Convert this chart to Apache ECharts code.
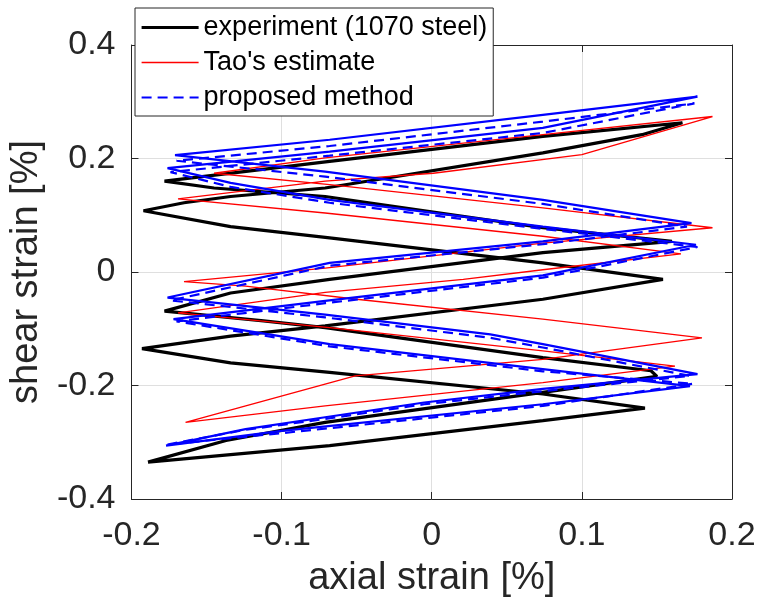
<!DOCTYPE html>
<html><head><meta charset="utf-8">
<script src="https://cdn.jsdelivr.net/npm/echarts/dist/echarts.min.js"></script>
<style>html,body{margin:0;padding:0;background:#fff}#c{width:760px;height:607px}</style>
</head><body><div id="c"></div>
<script>
// axis ticks
const xTickLabels = ['-0.2', '-0.1', '0', '0.1', '0.2'];
const yTickLabels = ['-0.4', '-0.2', '0', '0.2', '0.4'];

// experiment (1070 steel)
const expX = [-0.189,-0.137,-0.071,0.074,0.150,0.146,0.074,-0.071,-0.112,-0.178,-0.134,-0.068,0.074,0.160,0.074,-0.071,-0.145,-0.178,-0.068,0.074,0.167,0.140,0.074,-0.071,-0.134,-0.165,-0.192,-0.134,-0.068,0.074,0.154,0.074,-0.071,-0.134,-0.193,-0.134,-0.068,0.074,0.142,0.074,-0.068,-0.189];
const expY = [-0.335,-0.297,-0.265,-0.212,-0.184,-0.174,-0.151,-0.098,-0.086,-0.069,-0.037,-0.013,0.034,0.054,0.078,0.133,0.148,0.160,0.195,0.239,0.263,0.242,0.210,0.148,0.133,0.122,0.108,0.080,0.060,0.016,-0.013,-0.048,-0.095,-0.113,-0.135,-0.160,-0.177,-0.215,-0.240,-0.262,-0.306,-0.335];

// Tao's estimate
const taoX = [-0.164,-0.051,0.074,0.180,0.074,-0.050,-0.124,-0.165,-0.071,0.074,0.187,0.074,-0.068,-0.145,-0.071,0.074,0.187,0.100,0.001,-0.071,-0.169,-0.071,0.074,0.166,0.074,0.021,-0.071,-0.169,-0.068,0.074,0.162,0.074,-0.071,-0.164];
const taoY = [-0.265,-0.183,-0.154,-0.116,-0.083,-0.048,-0.025,-0.017,0.007,0.051,0.078,0.113,0.154,0.174,0.201,0.242,0.274,0.207,0.174,0.160,0.129,0.104,0.063,0.032,0.004,-0.013,-0.036,-0.072,-0.098,-0.139,-0.166,-0.195,-0.236,-0.265];

// proposed method (solid)
const propSolidX = [-0.177,-0.124,-0.071,-0.005,0.074,0.177,0.074,0.039,-0.071,-0.176,-0.068,0.074,0.173,0.074,-0.071,-0.171,-0.068,0.074,0.177,0.074,-0.068,-0.176,-0.134,-0.068,0.074,0.176,0.074,-0.071,-0.172,-0.068,0.074,0.172,0.074,-0.100,-0.177];
const propSolidY = [-0.306,-0.277,-0.256,-0.230,-0.206,-0.180,-0.127,-0.110,-0.075,-0.045,0.016,0.054,0.086,0.127,0.177,0.206,0.233,0.277,0.309,0.254,0.212,0.183,0.157,0.127,0.080,0.048,-0.006,-0.051,-0.083,-0.127,-0.171,-0.201,-0.233,-0.280,-0.306];

// proposed method (dashed)
const propDashX = [-0.176,-0.124,-0.071,-0.005,0.074,0.172,0.074,0.039,-0.071,-0.174,-0.068,0.074,0.170,0.074,-0.071,-0.170,-0.068,0.074,0.175,0.074,-0.068,-0.174,-0.134,-0.068,0.074,0.177,0.074,-0.071,-0.170,-0.068,0.074,0.174,0.074,-0.100,-0.176];
const propDashY = [-0.304,-0.278,-0.259,-0.233,-0.210,-0.183,-0.133,-0.116,-0.080,-0.050,0.011,0.049,0.080,0.120,0.168,0.196,0.222,0.265,0.297,0.245,0.205,0.176,0.150,0.122,0.076,0.044,-0.010,-0.055,-0.087,-0.131,-0.175,-0.197,-0.236,-0.284,-0.304];

const zip = (xs, ys) => xs.map((x, i) => [x, ys[i]]);
const FONT = "'Liberation Sans', Arial, sans-serif";
const TXT = '#262626';

const chart = echarts.init(document.getElementById('c'), null, {renderer: 'canvas'});
const xMin = -0.2, xMax = 0.2, xStep = 0.1;
const yMin = -0.4, yMax = 0.4, yStep = 0.2;

const baseAxis = {
  type: 'value',
  axisLine: {show: true, onZero: false, lineStyle: {color: TXT, width: 1}},
  axisTick: {show: true, inside: true, length: 7, lineStyle: {color: TXT}},
};

chart.setOption({
  animation: false,
  backgroundColor: '#fff',
  grid: {left: 126, right: 28, top: 45, bottom: 108, containLabel: false},
  xAxis: [
    Object.assign({}, baseAxis, {
      min: xMin, max: xMax, interval: xStep, position: 'bottom',
      axisLabel: {fontSize: 34, fontFamily: FONT, color: TXT, margin: 20,
        formatter: v => xTickLabels[Math.round((v - xMin) / xStep)]},
      splitLine: {show: true, lineStyle: {color: '#dfdfdf', width: 1}},
      name: 'axial strain [%]', nameLocation: 'middle', nameGap: 61,
      nameTextStyle: {fontSize: 38, fontFamily: FONT, color: TXT}
    }),
    Object.assign({}, baseAxis, {
      min: xMin, max: xMax, interval: xStep, position: 'top',
      axisLabel: {show: false}, splitLine: {show: false}
    })
  ],
  yAxis: [
    Object.assign({}, baseAxis, {
      min: yMin, max: yMax, interval: yStep, position: 'left',
      axisLabel: {fontSize: 34, fontFamily: FONT, color: TXT, margin: 16,
        formatter: v => yTickLabels[Math.round((v - yMin) / yStep)]},
      splitLine: {show: true, lineStyle: {color: '#dfdfdf', width: 1}},
      name: 'shear strain [%]', nameLocation: 'middle', nameGap: 76, nameRotate: 90,
      nameTextStyle: {fontSize: 38, fontFamily: FONT, color: TXT}
    }),
    Object.assign({}, baseAxis, {
      min: yMin, max: yMax, interval: yStep, position: 'right',
      axisLabel: {show: false}, splitLine: {show: false}
    })
  ],
  legend: {
    data: ['experiment (1070 steel)', "Tao's estimate", 'proposed method'],
    orient: 'vertical', left: 135, top: 8,
    itemWidth: 57, itemHeight: 12, itemGap: 8,
    padding: [6, 6, 5, 5],
    backgroundColor: '#fff', borderColor: TXT, borderWidth: 1, borderRadius: 0,
    itemStyle: {opacity: 0},
    lineStyle: {width: 'inherit'},
    textStyle: {fontSize: 27, fontFamily: FONT, color: '#000'},
    z: 10
  },
  series: [
    {name: 'experiment (1070 steel)', type: 'line', data: zip(expX, expY),
      symbol: 'none', showSymbol: false, lineStyle: {color: '#000', width: 3.2}, itemStyle: {color: '#000'}, z: 2},
    {name: "Tao's estimate", type: 'line', data: zip(taoX, taoY),
      symbol: 'none', showSymbol: false, lineStyle: {color: '#ff0000', width: 1.3}, itemStyle: {color: '#ff0000'}, z: 3},
    {name: 'proposed method (solid)', type: 'line', data: zip(propSolidX, propSolidY),
      symbol: 'none', showSymbol: false, lineStyle: {color: '#0000ff', width: 2.2}, itemStyle: {color: '#0000ff'}, z: 4},
    {name: 'proposed method', type: 'line', data: zip(propDashX, propDashY),
      symbol: 'none', showSymbol: false, lineStyle: {color: '#0000ff', width: 2.2, type: [10, 6]}, itemStyle: {color: '#0000ff'}, z: 5}
  ]
});
</script></body></html>
